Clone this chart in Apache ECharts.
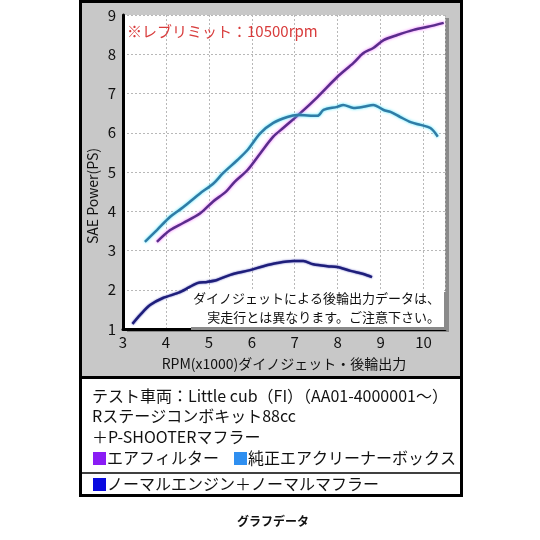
<!DOCTYPE html>
<html><head><meta charset="utf-8">
<script src="https://cdn.jsdelivr.net/npm/echarts@6/dist/echarts.min.js"></script>
<style>html,body{margin:0;padding:0;background:#fff;}#c{width:540px;height:540px;}</style>
</head><body><div id="c"></div>
<script>
var FONT = '"Noto Sans CJK JP","Noto Sans",sans-serif';
var xTicks = [3,4,5,6,7,8,9,10];
var yTicks = [1,2,3,4,5,6,7,8,9];

var airFilterRpm = [3.79,4.1,4.4,4.8,5.1,5.4,5.6,5.9,6.2,6.5,6.73,7.13,7.53,7.99,8.37,8.6,8.83,9.07,9.39,9.77,10.1,10.47];
var airFilterPs  = [3.22,3.52,3.7,3.95,4.25,4.5,4.75,5.05,5.48,5.9,6.12,6.5,6.91,7.42,7.78,8.03,8.16,8.36,8.49,8.62,8.7,8.8];

var stockBoxRpm = [3.51,3.79,4.1,4.4,4.8,5.1,5.33,5.66,5.9,6.2,6.5,6.83,7.06,7.3,7.53,7.67,7.99,8.13,8.37,8.6,8.83,9.07,9.23,9.46,9.7,9.93,10.16,10.33];
var stockBoxPs  = [3.22,3.52,3.86,4.1,4.46,4.7,4.97,5.3,5.56,5.99,6.25,6.4,6.45,6.44,6.43,6.58,6.66,6.71,6.63,6.66,6.71,6.58,6.53,6.4,6.27,6.2,6.12,5.9];

var normalRpm = [3.22,3.4,3.63,3.93,4.33,4.73,4.96,5.19,5.5,5.96,6.27,6.59,6.97,7.2,7.43,7.76,7.99,8.3,8.6,8.8];
var normalPs  = [1.13,1.36,1.61,1.79,1.94,2.17,2.2,2.25,2.38,2.5,2.6,2.68,2.73,2.73,2.65,2.6,2.58,2.48,2.4,2.32];

var seriesNames = ['エアフィルター','純正エアクリーナーボックス','ノーマルエンジン＋ノーマルマフラー'];
var xAxisTitle = 'RPM(x1000)ダイノジェット・後輪出力';
var yAxisTitle = 'SAE Power(PS)';
var noteLines = ['ダイノジェットによる後輪出力データは、','実走行とは異なります。ご注意下さい。'];
var revLimit = '※レブリミット：10500rpm';
var legendLines = ['テスト車両：Little cub（FI）（AA01-4000001～）','Rステージコンボキット88cc','＋P-SHOOTERマフラー'];
var caption = 'グラフデータ';

function pairs(xs, ys){ return xs.map(function(x,i){ return [x, ys[i]]; }); }

var chart = echarts.init(document.getElementById('c'), null, {renderer:'canvas'});
chart.setOption({
  backgroundColor:'#ffffff',
  animation:false,
  grid:{left:123, top:15, width:322, height:314, show:true, backgroundColor:'#ffffff', borderWidth:0,
        shadowColor:'#8a8a8a', shadowOffsetX:4, shadowOffsetY:3, shadowBlur:0},
  xAxis:{type:'value', min:3, max:10.5, interval:1,
    name:xAxisTitle, nameLocation:'middle', nameGap:28,
    nameTextStyle:{fontFamily:FONT, fontSize:14, color:'#111'},
    axisLine:{show:true, lineStyle:{color:'#000', width:3}},
    axisTick:{show:false},
    axisLabel:{fontFamily:FONT, fontSize:15, color:'#111', margin:6, showMaxLabel:false,
      formatter:function(v){ return xTicks.indexOf(v)>=0 ? String(v) : ''; }},
    splitLine:{show:true, lineStyle:{color:'#b8b8b8', type:[2,2], width:1}}
  },
  yAxis:{type:'value', min:1, max:9, interval:1,
    axisLine:{show:true, lineStyle:{color:'#000', width:3}},
    axisTick:{show:false},
    axisLabel:{fontFamily:FONT, fontSize:15, color:'#111', margin:7,
      formatter:function(v){ return yTicks.indexOf(v)>=0 ? String(v) : ''; }},
    splitLine:{show:true, lineStyle:{color:'#b8b8b8', type:[2,2], width:1}}
  },
  series:[
    {name:seriesNames[0], type:'line', data:pairs(airFilterRpm, airFilterPs), smooth:0.3, showSymbol:false,
     lineStyle:{color:'#5a2c8c', width:2.5, shadowColor:'#f070ff', shadowBlur:3}},
    {name:seriesNames[1], type:'line', data:pairs(stockBoxRpm, stockBoxPs), smooth:0.3, showSymbol:false,
     lineStyle:{color:'#2f7ca6', width:2.5, shadowColor:'#50e8ff', shadowBlur:3}},
    {name:seriesNames[2], type:'line', data:pairs(normalRpm, normalPs), smooth:0.3, showSymbol:false,
     lineStyle:{color:'#1e1e7a', width:2.5, shadowColor:'#6060c0', shadowBlur:2}}
  ],
  graphic:[
    {type:'rect', z:-10, shape:{x:80, y:3, width:382, height:374}, style:{fill:'#c8c8c8'}},
    {type:'rect', z:-10, shape:{x:80, y:378, width:382, height:118}, style:{fill:'#ffffff'}},
    {type:'rect', z:100, shape:{x:80.5, y:1.5, width:381, height:494}, style:{fill:null, stroke:'#000', lineWidth:3}},
    {type:'line', z:100, shape:{x1:80, y1:377.5, x2:462, y2:377.5}, style:{stroke:'#000', lineWidth:3}},
    {type:'line', z:100, shape:{x1:80, y1:473, x2:462, y2:473}, style:{stroke:'#000', lineWidth:1.5}},
    {type:'text', z:50, x:93, y:196, rotation:Math.PI/2, style:{text:yAxisTitle, x:0, y:0, align:'center', verticalAlign:'middle', fill:'#111', font:'14px '+FONT}},
    {type:'text', z:50, style:{text:revLimit, x:127, y:31, verticalAlign:'middle', fill:'#d83c3c', font:'15px '+FONT}},
    {type:'rect', z:50, shape:{x:188, y:289, width:256, height:38}, style:{fill:'#ffffff', shadowColor:'#8a8a8a', shadowOffsetX:3, shadowOffsetY:3}},
    {type:'text', z:51, style:{text:noteLines[0], x:440, y:298, align:'right', verticalAlign:'middle', fill:'#111', font:'13px '+FONT}},
    {type:'text', z:51, style:{text:noteLines[1], x:440, y:317, align:'right', verticalAlign:'middle', fill:'#111', font:'13px '+FONT}},
    {type:'text', z:60, style:{text:legendLines[0], x:92, y:396, verticalAlign:'middle', fill:'#111', font:'16px '+FONT}},
    {type:'text', z:60, style:{text:legendLines[1], x:92, y:416, verticalAlign:'middle', fill:'#111', font:'16px '+FONT}},
    {type:'text', z:60, style:{text:legendLines[2], x:92, y:437, verticalAlign:'middle', fill:'#111', font:'16px '+FONT}},
    {type:'rect', z:60, shape:{x:93, y:452, width:13, height:13}, style:{fill:'#8a1cf5'}},
    {type:'text', z:60, style:{text:seriesNames[0], x:107, y:458, verticalAlign:'middle', fill:'#111', font:'16px '+FONT}},
    {type:'rect', z:60, shape:{x:234, y:452, width:13, height:13}, style:{fill:'#2f8ff0'}},
    {type:'text', z:60, style:{text:seriesNames[1], x:248, y:458, verticalAlign:'middle', fill:'#111', font:'16px '+FONT}},
    {type:'rect', z:60, shape:{x:93, y:478, width:13, height:13}, style:{fill:'#0a0ae0'}},
    {type:'text', z:60, style:{text:seriesNames[2], x:107, y:484, verticalAlign:'middle', fill:'#111', font:'16px '+FONT}},
    {type:'text', z:60, style:{text:caption, x:273, y:521, align:'center', verticalAlign:'middle', fill:'#111', font:'bold 12px '+FONT}}
  ]
});
</script></body></html>
